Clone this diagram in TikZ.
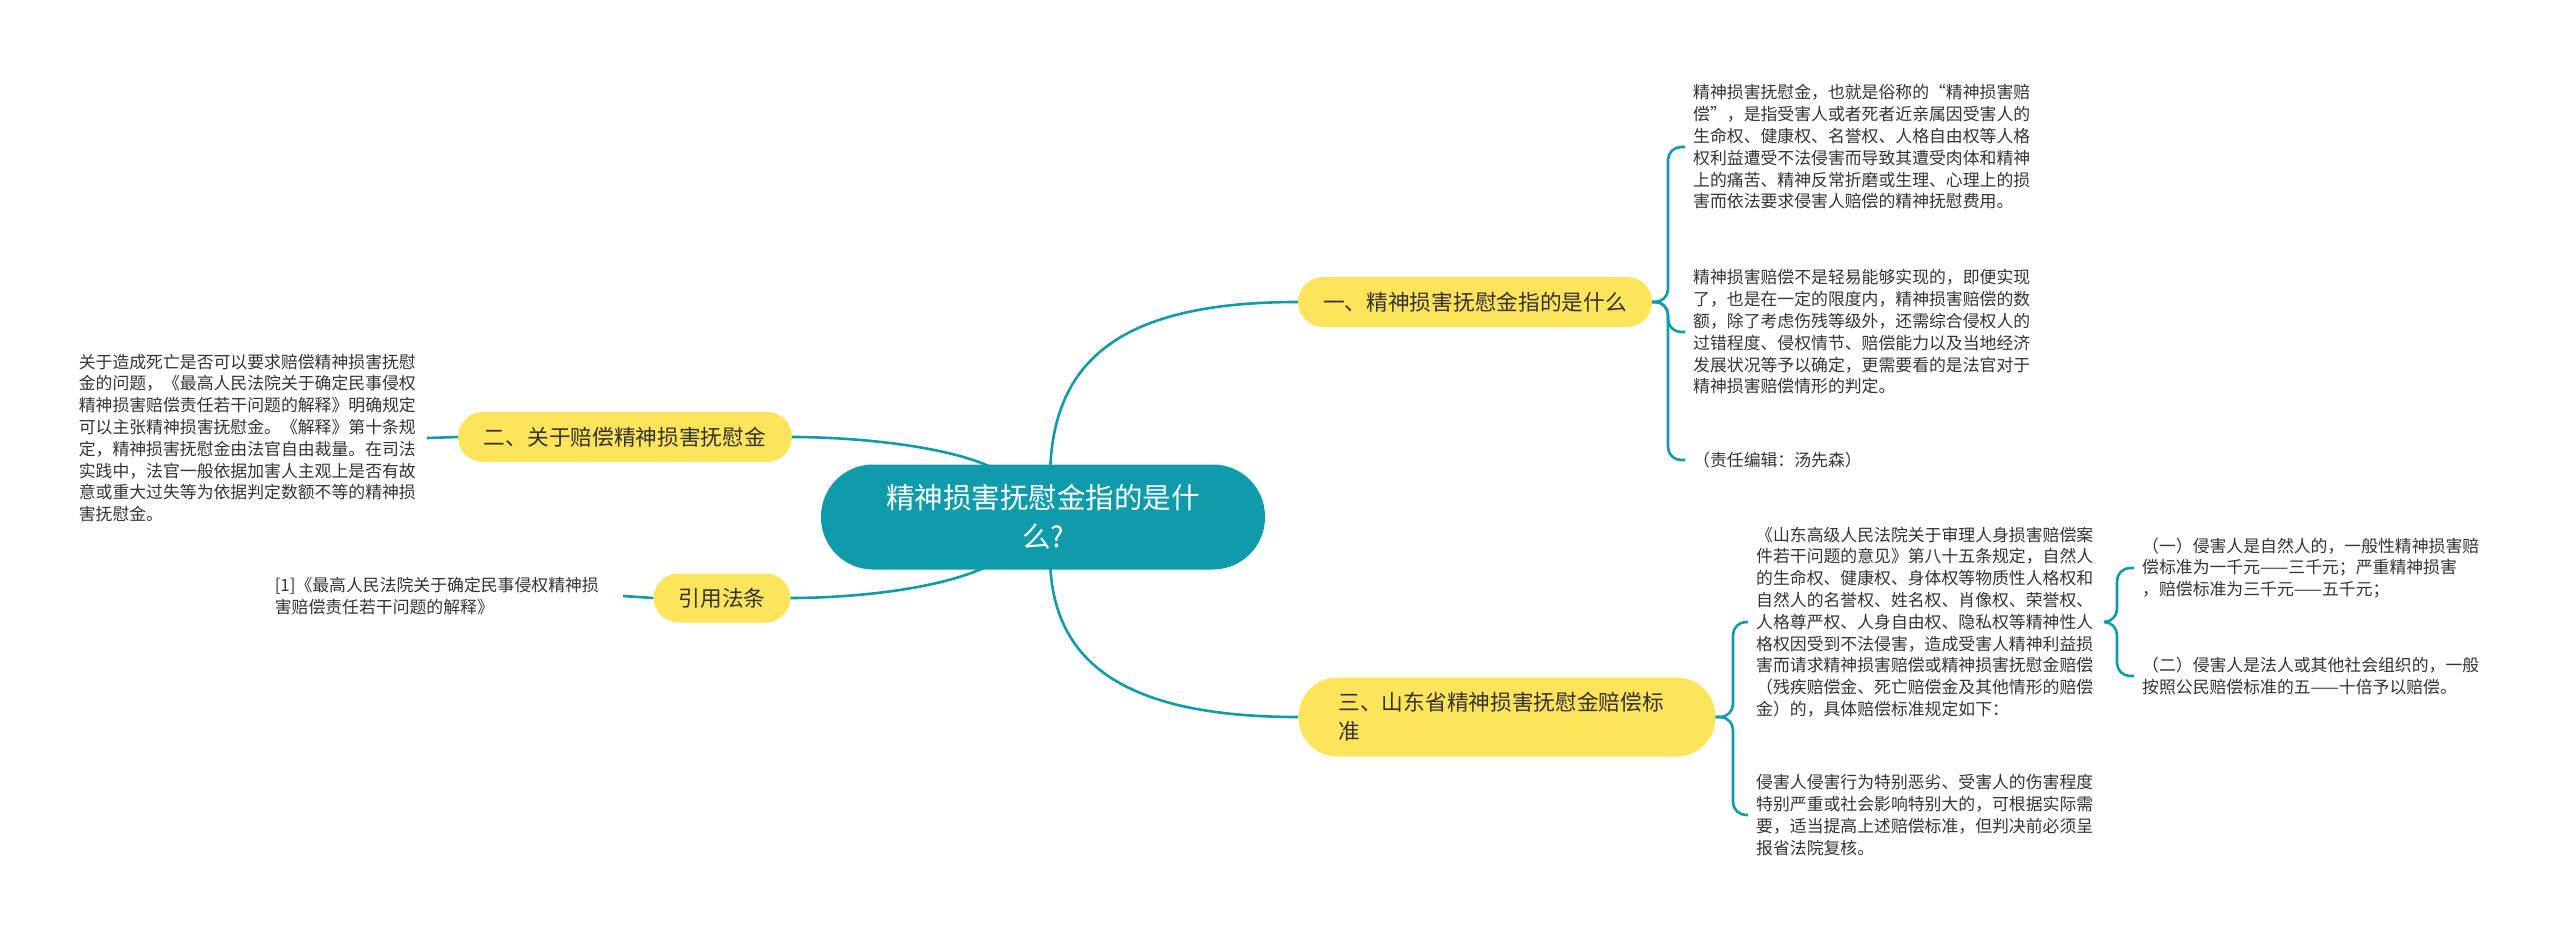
\documentclass[tikz,border=0pt]{standalone}
\usepackage{fontspec}
\newfontfamily\cjk{Noto Sans CJK SC}
\definecolor{tealc}{RGB}{16,155,170}
\definecolor{yelc}{RGB}{254,228,90}
\definecolor{txtc}{RGB}{51,51,51}
\begin{document}
\begin{tikzpicture}[x=1pt,y=-1pt,
 conn/.style={draw=tealc, line width=2.6pt},
 bconn/.style={draw=tealc, line width=2.6pt, rounded corners=13pt},
 leaf/.style={font=\cjk\fontsize{16.85}{21.8}\selectfont, text=txtc, align=left, inner xsep=8pt, inner ysep=0pt, anchor=west, text width=340pt},
 branch/.style={fill=yelc, text=txtc, font=\cjk\fontsize{21.7}{29}\selectfont, rounded corners=25pt, minimum height=50pt, inner sep=0pt},
]
\useasboundingbox (0,0) rectangle (2560,939);

% connectors from root
\draw[conn] (1050,480) .. controls (1050,360) and (1120,302) .. (1298,302);
\draw[conn] (1050,555) .. controls (1050,660) and (1120,717) .. (1298,717);
\draw[conn] (997,470) .. controls (950,445) and (850,437) .. (792,437);
\draw[conn] (990,565) .. controls (940,590) and (850,598) .. (790,598);

% root
\node[fill=tealc, text=white, font=\cjk\fontsize{28.5}{39}\selectfont, align=center, minimum width=444pt, minimum height=105pt, rounded corners=52pt, inner sep=0pt] (main) at (1043,517) {精神损害抚慰金指的是什\\么?};

% branches
\node[branch, minimum width=354pt] (b1) at (1475,302) {一、精神损害抚慰金指的是什么};
\node[branch, minimum width=334pt] (b2) at (625,437) {二、关于赔偿精神损害抚慰金};
\node[branch, minimum width=137pt, minimum height=49pt] (b4) at (722,598) {引用法条};
\node[branch, minimum width=417pt, minimum height=79pt, rounded corners=39pt, align=left, text width=337pt] (b3) at (1507,717) {三、山东省精神损害抚慰金赔偿标\\准};

% leaves of branch 1
\node[leaf] (l1) at (1685,147) {精神损害抚慰金，也就是俗称的“精神损害赔\\偿”，是指受害人或者死者近亲属因受害人的\\生命权、健康权、名誉权、人格自由权等人格\\权利益遭受不法侵害而导致其遭受肉体和精神\\上的痛苦、精神反常折磨或生理、心理上的损\\害而依法要求侵害人赔偿的精神抚慰费用。};
\node[leaf] (l2) at (1685,332) {精神损害赔偿不是轻易能够实现的，即便实现\\了，也是在一定的限度内，精神损害赔偿的数\\额，除了考虑伤残等级外，还需综合侵权人的\\过错程度、侵权情节、赔偿能力以及当地经济\\发展状况等予以确定，更需要看的是法官对于\\精神损害赔偿情形的判定。};
\node[leaf] (l3) at (1685,460) {（责任编辑：汤先森）};

\draw[bconn] (b1.east) -- (1668,302) -- (1668,147) -- (l1.west);
\draw[bconn] (b1.east) -- (1668,302) -- (1668,332) -- (l2.west);
\draw[bconn] (b1.east) -- (1668,302) -- (1668,460) -- (l3.west);

% leaf of branch 2
\node[leaf, anchor=east] (l4) at (427,438) {关于造成死亡是否可以要求赔偿精神损害抚慰\\金的问题，《最高人民法院关于确定民事侵权\\精神损害赔偿责任若干问题的解释》明确规定\\可以主张精神损害抚慰金。《解释》第十条规\\定，精神损害抚慰金由法官自由裁量。在司法\\实践中，法官一般依据加害人主观上是否有故\\意或重大过失等为依据判定数额不等的精神损\\害抚慰金。};
\draw[conn] (l4.east) -- (b2.west);

% leaf of cite
\node[leaf, anchor=east] (l5) at (623,596) {[1]《最高人民法院关于确定民事侵权精神损\\害赔偿责任若干问题的解释》};
\draw[conn] (l5.east) -- (b4.west);

% leaves of branch 3
\node[leaf] (m) at (1748,622) {《山东高级人民法院关于审理人身损害赔偿案\\件若干问题的意见》第八十五条规定，自然人\\的生命权、健康权、身体权等物质性人格权和\\自然人的名誉权、姓名权、肖像权、荣誉权、\\人格尊严权、人身自由权、隐私权等精神性人\\格权因受到不法侵害，造成受害人精神利益损\\害而请求精神损害赔偿或精神损害抚慰金赔偿\\（残疾赔偿金、死亡赔偿金及其他情形的赔偿\\金）的，具体赔偿标准规定如下：};
\node[leaf] (l6) at (1748,815) {侵害人侵害行为特别恶劣、受害人的伤害程度\\特别严重或社会影响特别大的，可根据实际需\\要，适当提高上述赔偿标准，但判决前必须呈\\报省法院复核。};
\draw[bconn] (b3.east) -- (1733,717) -- (1733,622) -- (m.west);
\draw[bconn] (b3.east) -- (1733,717) -- (1733,815) -- (l6.west);

% leaves of m
\node[leaf] (r1) at (2134,568) {（一）侵害人是自然人的，一般性精神损害赔\\偿标准为一千元——三千元；严重精神损害\\，赔偿标准为三千元——五千元；};
\node[leaf] (r2) at (2134,676) {（二）侵害人是法人或其他社会组织的，一般\\按照公民赔偿标准的五——十倍予以赔偿。};
\draw[bconn] (m.east) -- (2117,622) -- (2117,568) -- (r1.west);
\draw[bconn] (m.east) -- (2117,622) -- (2117,676) -- (r2.west);
\end{tikzpicture}
\end{document}
